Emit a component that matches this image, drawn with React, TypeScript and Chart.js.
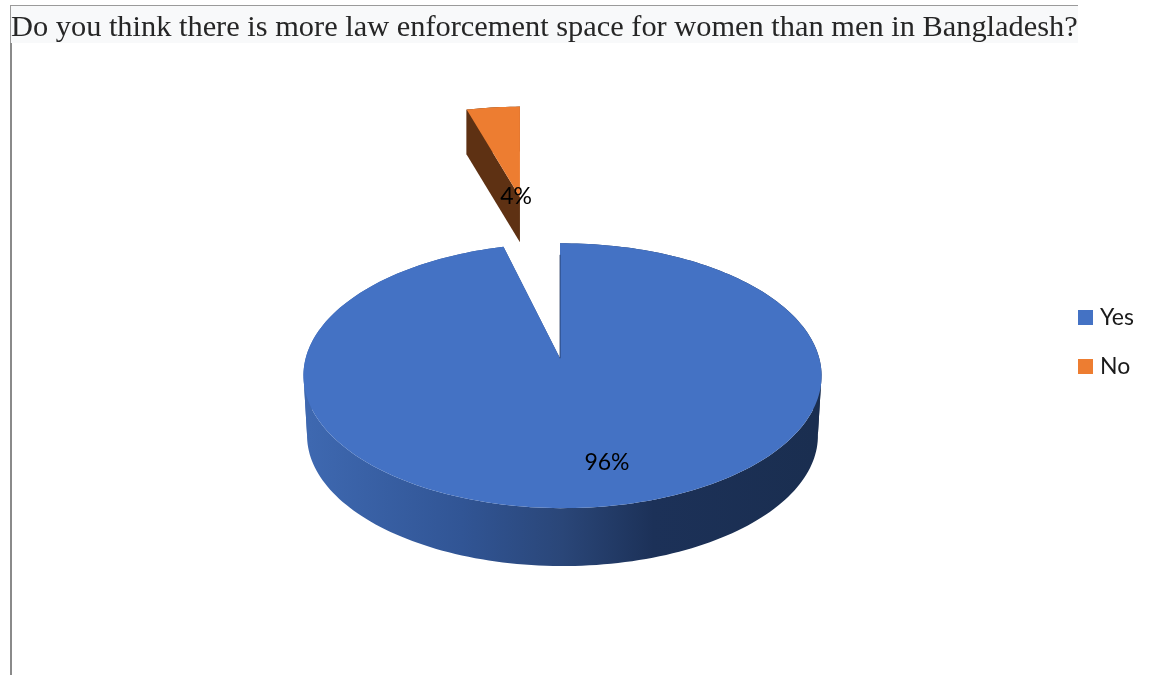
import React, { useEffect, useRef } from "react";
import { Chart, registerables, ArcElement, PieController } from "chart.js";

const titleText = "Do you think there is more law enforcement space for women than men in Bangladesh?";
const categories = ["Yes", "No"];
const shares = [96, 4];
const sliceColors = ["#4472c4", "#ed7d31"];

// Perspective applied to the flat pie: foreshortening on each axis and the camera tilt.
const X_SCALE = 257 / 315;
const Y_SCALE = 130.2 / 315;
const TILT_V = 0.132;
const TILT_U = 0.0096;

// Per-slice 3D settings, in units of the pie radius except for thickness (pixels).
const PULL = [0, 1.49];
const REACH = [1, 1.12];
const THICKNESS = [60, 45];
const FLOOR_SCALE = [0.986, 1];
const LABEL_SPOTS = [
  [0.165, -0.725],
  [-0.205, 1.495],
];

const BLUE_WALL_STOPS: [number, string][] = [
  [0, "#3e68b0"],
  [0.3, "#315595"],
  [0.5, "#2a4678"],
  [0.68, "#1c3158"],
  [1, "#1a2e50"],
];
const BROWN_WALL = "#5e3113";

type Pt = [number, number];

function project(cx: number, cy: number, r: number, u: number, v: number, drop = 0, shrink = 1): Pt {
  const w = 1 + TILT_V * v - TILT_U * u;
  return [cx + (r * X_SCALE * shrink * u) / w, cy + drop - (r * Y_SCALE * shrink * v) / w];
}

function trace(ctx: CanvasRenderingContext2D, pts: Pt[]) {
  ctx.beginPath();
  pts.forEach((p, i) => (i ? ctx.lineTo(p[0], p[1]) : ctx.moveTo(p[0], p[1])));
  ctx.closePath();
}

// Arc element that paints its slice as a thick disc seen in perspective.
class TiltedArc extends ArcElement {
  static id = "tiltedArc";

  draw(ctx: CanvasRenderingContext2D) {
    const { x, y, startAngle, endAngle, outerRadius } = this.getProps(
      ["x", "y", "startAngle", "endAngle", "outerRadius"],
      true
    ) as any;
    const i: number = (this as any).$context.index;
    const mid = (startAngle + endAngle) / 2;
    const ou = Math.cos(mid) * PULL[i];
    const ov = -Math.sin(mid) * PULL[i];
    const steps = Math.max(8, Math.ceil((endAngle - startAngle) * 40));

    const rimAngles: number[] = [];
    for (let s = 0; s <= steps; s++) rimAngles.push(startAngle + ((endAngle - startAngle) * s) / steps);

    // A pulled slice keeps its own upright axis: the sideways pull is a plain shift on screen.
    const shiftX = project(x, y, outerRadius, ou, ov)[0] - x;
    const place = (u: number, v: number, drop = 0, shrink = 1): Pt => {
      const p = project(x, y, outerRadius, u, v, drop, shrink);
      return [p[0] + shiftX, p[1]];
    };
    const at = (a: number, drop = 0, shrink = 1) =>
      place(REACH[i] * Math.cos(a), ov - REACH[i] * Math.sin(a), drop, shrink);
    const apex = (drop = 0, shrink = 1) => place(0, ov, drop, shrink);

    const drop = THICKNESS[i];
    const shrink = FLOOR_SCALE[i];
    const topRim = rimAngles.map((a) => at(a));
    const lowRim = rimAngles.map((a) => at(a, drop, shrink));

    ctx.save();
    let wall: CanvasGradient | string = BROWN_WALL;
    if (i === 0) {
      const left = at(-Math.PI, drop, shrink)[0];
      const right = at(0, drop, shrink)[0];
      const g = ctx.createLinearGradient(left, 0, right, 0);
      BLUE_WALL_STOPS.forEach(([o, c]) => g.addColorStop(o, c));
      wall = g;
    }
    ctx.fillStyle = wall;

    // Outer rim wall, one run per horizontal direction so that the runs never cancel out.
    let runStart = 0;
    for (let s = 1; s <= steps; s++) {
      const turning =
        s === steps || Math.sign(topRim[s][0] - topRim[s - 1][0]) !== Math.sign(topRim[s + 1][0] - topRim[s][0]);
      if (turning) {
        trace(ctx, [...topRim.slice(runStart, s + 1), ...lowRim.slice(runStart, s + 1).reverse()]);
        ctx.fill();
        runStart = s;
      }
    }

    // The two cut faces, then the lid on top.
    trace(ctx, [apex(), topRim[0], lowRim[0], apex(drop, shrink)]);
    ctx.fill();
    trace(ctx, [apex(), topRim[steps], lowRim[steps], apex(drop, shrink)]);
    ctx.fill();

    trace(ctx, [apex(), ...topRim]);
    ctx.fillStyle = (this as any).options.backgroundColor;
    ctx.fill();

    if (i === 0) {
      // The cut face turned slightly towards the viewer shows as a thin dark seam.
      const a = apex();
      const b = topRim[0];
      ctx.strokeStyle = "rgba(27,47,85,0.75)";
      ctx.lineWidth = 1;
      ctx.beginPath();
      ctx.moveTo(a[0], a[1]);
      ctx.lineTo(a[0] + (b[0] - a[0]) * 0.9, a[1] + (b[1] - a[1]) * 0.9);
      ctx.stroke();
    }
    ctx.restore();
  }
}

class TiltedPie extends PieController {
  static id = "tiltedPie";
  static defaults = { dataElementType: "tiltedArc" };
}

Chart.register(...registerables, TiltedArc as any, TiltedPie as any);

// Page furniture behind the chart: the title band and the frame lines.
const framePlugin = {
  id: "frame",
  beforeDraw(chart: any) {
    const { ctx, width, height } = chart;
    ctx.save();
    ctx.fillStyle = "#ffffff";
    ctx.fillRect(0, 0, width, height);
    ctx.fillStyle = "#f8f9fa";
    ctx.fillRect(11, 6, 1067, 37);
    ctx.fillStyle = "#9a9a9a";
    ctx.fillRect(10, 5, 1068, 1);
    ctx.fillRect(10, 5, 1, 38);
    ctx.fillStyle = "#8a8a8a";
    ctx.fillRect(10, 43, 2, height - 43);
    ctx.restore();
  },
};

// Percentage labels, placed on the projected disc.
const valueLabelPlugin = {
  id: "valueLabels",
  afterDatasetsDraw(chart: any) {
    const { ctx } = chart;
    const meta = chart.getDatasetMeta(0);
    ctx.save();
    ctx.font = "23px Lato";
    ctx.fillStyle = "#000000";
    ctx.textAlign = "center";
    ctx.textBaseline = "middle";
    meta.data.forEach((el: any, i: number) => {
      const [u, v] = LABEL_SPOTS[i];
      const [px, py] = project(el.x, el.y, el.outerRadius, u, v);
      ctx.fillText(`${shares[i]}%`, px, py);
    });
    ctx.restore();
  },
};

// Key at the right of the chart, square swatch followed by its name.
const keyPlugin = {
  id: "sliceKey",
  afterDraw(chart: any) {
    const { ctx } = chart;
    ctx.save();
    ctx.font = "23px Lato";
    ctx.textBaseline = "middle";
    ctx.textAlign = "left";
    categories.forEach((name, i) => {
      const top = 310 + i * 49;
      ctx.fillStyle = sliceColors[i];
      ctx.fillRect(1078, top, 15, 15);
      ctx.fillStyle = "#1a1a1a";
      ctx.fillText(name, 1100, top + 8);
    });
    ctx.restore();
  },
};

export default function App() {
  const ref = useRef<HTMLCanvasElement>(null);

  useEffect(() => {
    document.body.style.margin = "0";
    const chart = new Chart(ref.current as HTMLCanvasElement, {
      type: "tiltedPie" as any,
      data: {
        labels: categories,
        datasets: [{ data: shares, backgroundColor: sliceColors, borderWidth: 0 }],
      },
      options: {
        responsive: false,
        animation: false,
        layout: { padding: { left: 11, right: 44, top: 0, bottom: 2 } },
        plugins: {
          legend: { display: false },
          tooltip: { enabled: false },
          title: {
            display: true,
            text: titleText,
            align: "start",
            color: "#262626",
            font: { family: "'Liberation Serif'", size: 30.4, weight: "normal", lineHeight: 1.07 },
            padding: { top: 12, bottom: -1 },
          },
        },
      } as any,
      plugins: [framePlugin, valueLabelPlugin, keyPlugin],
    });
    return () => chart.destroy();
  }, []);

  return <canvas ref={ref} width={1153} height={675} style={{ display: "block" }} />;
}
